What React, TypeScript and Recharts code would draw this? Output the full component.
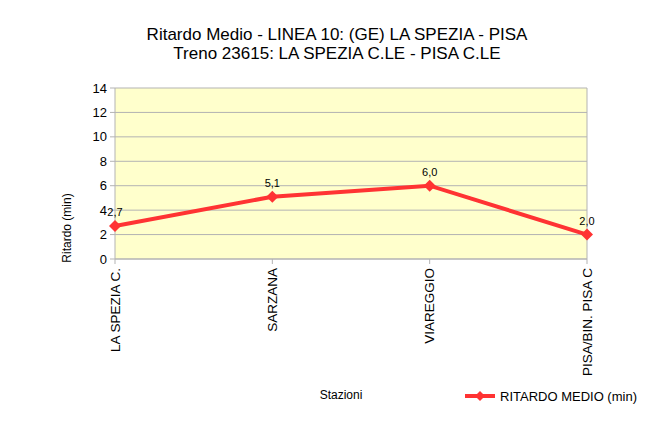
import React from 'react';
import { LineChart, Line, XAxis, YAxis, CartesianGrid, LabelList, ReferenceLine } from 'recharts';

const stations = ['LA SPEZIA C.', 'SARZANA', 'VIAREGGIO', 'PISA/BIN. PISA C'];
const ritardoMedio = [2.7, 5.1, 6.0, 2.0];
const yTicks = [0, 2, 4, 6, 8, 10, 12, 14];
const titleLines = ['Ritardo Medio - LINEA 10: (GE) LA SPEZIA - PISA', 'Treno 23615: LA SPEZIA C.LE - PISA C.LE'];
const seriesName = 'RITARDO MEDIO (min)';

const data = stations.map((s, i) => ({ station: s, ritardo: ritardoMedio[i] }));

const FONT = '"Liberation Sans", Arial, sans-serif';
const RED = '#ff3333';
const GRID = '#b3b3b3';

const XTick = (props: any) => {
  const { x, y, payload } = props;
  const ty = y + 2;
  return (
    <text
      x={x}
      y={ty}
      transform={`rotate(-90 ${x} ${ty})`}
      textAnchor="end"
      dy="0.35em"
      fontSize={13.5}
      fontFamily={FONT}
      fill="#000"
    >
      {payload.value}
    </text>
  );
};

const Diamond = (props: any) => {
  const { cx, cy } = props;
  if (cx == null || cy == null) return null;
  const r = 6;
  return <polygon points={`${cx},${cy - r} ${cx + r},${cy} ${cx},${cy + r} ${cx - r},${cy}`} fill={RED} stroke="none" />;
};

export default function App() {
  return (
    <div style={{ position: 'relative', margin: -8, width: 662, height: 429, overflow: 'hidden', background: '#fff', fontFamily: FONT }}>
      <div style={{ position: 'absolute', left: 4, top: 4, width: 800, height: 600, borderTop: '2px solid #b4cbeb', borderLeft: '2px solid #b4cbeb' }} />
      {titleLines.map((t, i) => (
        <div key={i} style={{ position: 'absolute', left: 0, width: 674, top: 25 + i * 19, textAlign: 'center', fontSize: 17, lineHeight: '20px', color: '#000' }}>{t}</div>
      ))}
      <div style={{ position: 'absolute', left: 0, top: 0 }}>
        <LineChart width={662} height={429} data={data} margin={{ top: 88, right: 75, bottom: 60, left: 55 }}>
          <CartesianGrid horizontal vertical={false} stroke={GRID} fill="#ffffcc" />
          <XAxis
            dataKey="station"
            height={110}
            interval={0}
            tick={<XTick />}
            tickSize={5}
            tickLine={{ stroke: GRID }}
            axisLine={{ stroke: GRID }}
          />
          <YAxis
            width={60}
            domain={[0, 14]}
            ticks={yTicks}
            interval={0}
            tickSize={5}
            tickMargin={3}
            tickLine={{ stroke: GRID }}
            axisLine={{ stroke: GRID }}
            tick={{ fontSize: 13, fill: '#000', fontFamily: FONT }}
          />
          <ReferenceLine x={stations[stations.length - 1]} stroke={GRID} />
          <Line
            dataKey="ritardo"
            stroke={RED}
            strokeWidth={4}
            dot={<Diamond />}
            activeDot={false}
            isAnimationActive={false}
          >
            <LabelList
              dataKey="ritardo"
              position="top"
              offset={10}
              formatter={(v: any) => Number(v).toFixed(1).replace('.', ',')}
              style={{ fontSize: 11, fill: '#000', fontFamily: FONT }}
            />
          </Line>
        </LineChart>
      </div>
      <div style={{ position: 'absolute', left: 67 - 50, top: 228 - 8, width: 100, height: 16, textAlign: 'center', fontSize: 12, lineHeight: '16px', transform: 'rotate(-90deg)', color: '#000' }}>Ritardo (min)</div>
      <div style={{ position: 'absolute', left: 291, top: 388, width: 100, textAlign: 'center', fontSize: 12, lineHeight: '14px', color: '#000' }}>Stazioni</div>
      <div style={{ position: 'absolute', left: 463, top: 388, display: 'flex', alignItems: 'center', height: 16 }}>
        <svg width={34} height={16}>
          <line x1={2} y1={8} x2={32} y2={8} stroke={RED} strokeWidth={4} />
          <polygon points="17,3 22,8 17,13 12,8" fill={RED} />
        </svg>
        <span style={{ fontSize: 13, color: '#000', marginLeft: 3 }}>{seriesName}</span>
      </div>
    </div>
  );
}
